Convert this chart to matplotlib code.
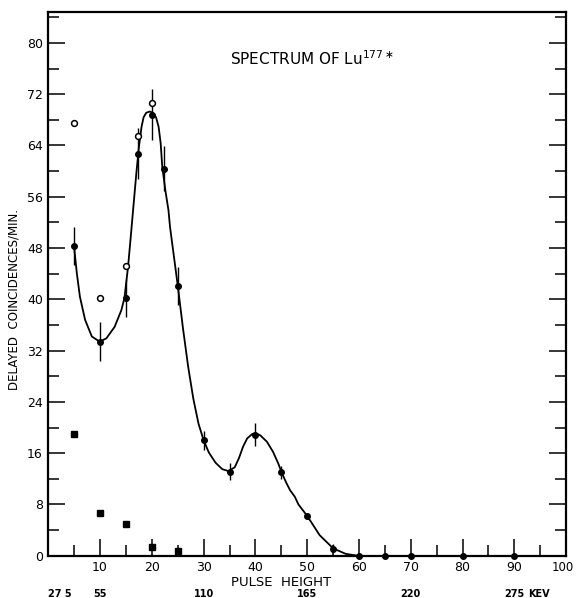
import matplotlib
matplotlib.use('Agg')
import matplotlib.pyplot as plt
import matplotlib.transforms as mtransforms

# delayed coincidence counts (filled circles, with error bars)
pulse_height = [5, 10, 15, 17.3, 20, 22.3, 25, 30, 35, 40, 45, 50, 55, 60, 65, 70, 80, 90]
counts = [48.3, 33.4, 40.2, 62.7, 68.8, 60.4, 42.1, 18.0, 13.1, 18.9, 13.0, 6.2, 1.1, 0, 0, 0, 0, 0]
count_err = [3, 3, 3, 4, 4, 3.5, 3, 1.5, 1.3, 1.8, 1, 0.5, 0.7, 0, 0, 0, 0, 0]

# open circles
open_ph = [5, 10, 15, 17.3, 20]
open_counts = [67.5, 40.2, 45.2, 65.5, 70.6]

# filled squares
square_ph = [5, 10, 15, 20, 25]
square_counts = [19.0, 6.6, 4.9, 1.4, 0.8]

# hand drawn curve
curve_ph = [5.0, 5.5, 6.1, 7.1, 8.4, 9.9, 11.2, 12.8, 14.1, 14.7, 15.4, 16.0, 16.4,
            17.0, 17.5, 18.0, 18.4, 18.9, 19.6, 20.2, 20.8, 21.3, 21.7, 22.0, 22.6,
            23.2, 23.5, 25.0, 26.0, 27.0, 28.0, 29.0, 30.0, 31.0, 32.3, 33.6, 34.8, 36.0,
            36.8, 37.6, 38.4, 39.4, 40.0, 40.9, 42.2, 43.4, 44.4, 45.1, 46.0, 46.7,
            47.6, 48.3, 50.0, 52.4, 55.0, 57.4, 59.7]
curve_counts = [48.0, 44.1, 40.4, 36.8, 34.2, 33.4, 33.9, 35.7, 38.3, 40.2, 45.1, 50.5, 54.2,
                59.7, 63.8, 66.9, 68.4, 69.1, 69.3, 69.1, 68.4, 66.9, 64.3, 60.7, 57.0,
                53.9, 51.3, 42.1, 35.5, 29.5, 24.5, 20.6, 18.0, 16.1, 14.5, 13.5, 13.2, 13.8,
                15.2, 17.0, 18.3, 19.0, 19.1, 18.8, 17.8, 16.2, 14.4, 12.9, 11.3, 10.2,
                9.2, 8.0, 6.2, 3.2, 1.15, 0.3, 0.0]

# energy scale under the pulse height axis
kev_pos = [0, 10, 30, 50, 70, 90]
kev_labels = ['27 5', '55', '110', '165', '220', '275']

y_major = list(range(0, 81, 8))
y_minor = list(range(4, 85, 8))
x_major = list(range(10, 101, 10))
x_minor = list(range(5, 100, 10))

fig = plt.figure(figsize=(5.76, 5.98), dpi=100)
ax = fig.add_axes([0.0839, 0.0707, 0.899, 0.909])

ax.plot(curve_ph, curve_counts, color='black', lw=1.3, zorder=2)
ax.errorbar(pulse_height, counts, yerr=count_err, fmt='o', color='black',
            ms=4, elinewidth=1.0, capsize=0, zorder=3, clip_on=False)
ax.plot(open_ph, open_counts, 'o', mfc='white', mec='black', ms=4.2, mew=1.1, zorder=4)
ax.plot(square_ph, square_counts, 's', color='black', ms=4.5, zorder=3)

ax.set_xlim(0, 100)
ax.set_ylim(0, 84.8)

ax.set_yticks(y_major)
ax.set_yticks(y_minor, minor=True)
ax.set_xticks(x_major)
ax.set_xticks(x_minor, minor=True)
ax.set_xticklabels([str(v) for v in x_major])

ax.tick_params(axis='y', which='major', direction='in', length=12, width=1.1,
               right=True, labelsize=9, pad=4)
ax.tick_params(axis='y', which='minor', direction='in', length=8, width=1.1, right=True)
ax.tick_params(axis='x', which='major', direction='in', length=12, width=1.1,
               labelsize=9, pad=4)
ax.tick_params(axis='x', which='minor', direction='in', length=8, width=1.1)

# keep the last tick label inside the picture
last = ax.get_xticklabels()[-1]
last.set_fontsize(8.5)
last.set_transform(last.get_transform() + mtransforms.ScaledTranslation(-3 / 100, 0, fig.dpi_scale_trans))

for side in ['left', 'right', 'top', 'bottom']:
    ax.spines[side].set_linewidth(1.6)

ax.text(51, 77.5, r'SPECTRUM OF Lu$^{177\ast}$', ha='center', va='center', fontsize=11)

fig.text(14 / 576, 1 - 300 / 598, 'DELAYED  COINCIDENCES/MIN.', rotation=90,
         ha='center', va='center', fontsize=8.5)
fig.text(281 / 576, 1 - 582 / 598, 'PULSE  HEIGHT', ha='center', va='center', fontsize=9.5)

trans = mtransforms.blended_transform_factory(ax.transData, ax.transAxes)
for pos, lab in zip(kev_pos, kev_labels):
    ax.text(pos, -0.071, lab, transform=trans, ha='left' if pos == 0 else 'center',
            va='center', fontsize=7, fontweight='bold')
ax.text(92.6, -0.071, 'KEV', transform=trans, ha='left', va='center',
        fontsize=7, fontweight='bold')

fig.savefig('out.png', dpi=100)
